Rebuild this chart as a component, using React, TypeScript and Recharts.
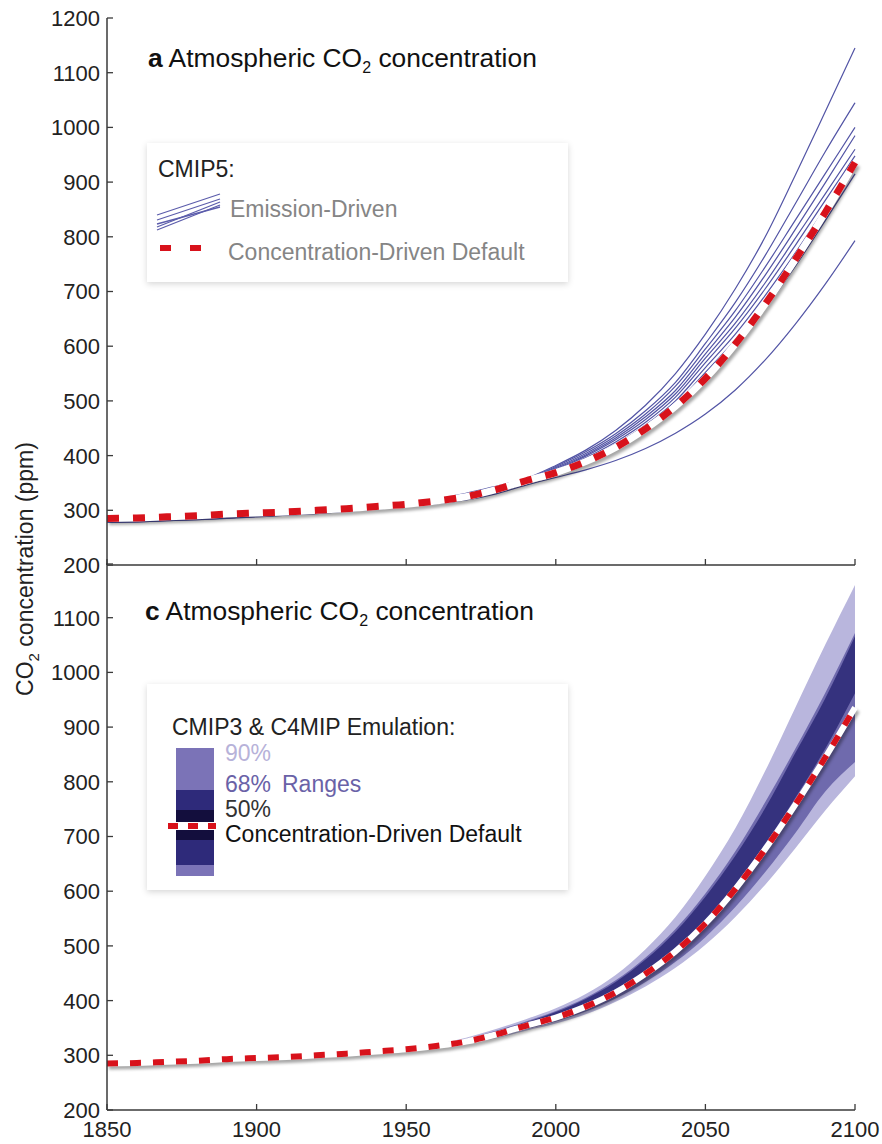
import React from "react";
import { ComposedChart, Line, Area, XAxis, YAxis } from "recharts";

const FONT = '"Liberation Sans", Arial, Helvetica, sans-serif';
const AXIS = "#3a3a3a";
const RUN = "#5254a5";
const RED = "#d8121b";

const years = [
  1850, 1860, 1870, 1880, 1890, 1900, 1910, 1920, 1930, 1940, 1950, 1960, 1970,
  1980, 1990, 2000, 2010, 2020, 2030, 2040, 2050, 2060, 2070, 2080, 2090, 2100,
];
const xTicks = [1850, 1900, 1950, 2000, 2050, 2100];
const yTicks = [200, 300, 400, 500, 600, 700, 800, 900, 1000, 1100, 1200];

// concentration-driven default (ppm)
const concDefault = [285, 286, 288, 290, 293, 295, 297, 300, 303, 307, 311, 317, 325, 338, 354, 369, 389, 415, 449, 490, 541, 604, 677, 758, 844, 936];

// CMIP5 emission-driven runs
const run1 = [280, 281, 283, 285, 288, 291, 294, 298, 303, 308, 314, 321, 331, 344, 358, 382, 410, 446, 492, 550, 622, 705, 800, 912, 1028, 1145];
const run2 = [279, 280, 282, 285, 287, 290, 294, 298, 302, 307, 313, 320, 330, 343, 357, 380, 407, 440, 482, 534, 605, 680, 766, 860, 955, 1045];
const run3 = [281, 282, 284, 286, 288, 291, 294, 298, 302, 307, 312, 319, 328, 341, 356, 378, 404, 436, 476, 527, 595, 665, 745, 830, 915, 1000];
const run4 = [279, 280, 282, 284, 287, 290, 293, 297, 301, 306, 312, 318, 327, 340, 355, 376, 401, 432, 471, 519, 586, 653, 730, 813, 898, 985];
const run5 = [280, 281, 283, 285, 287, 290, 293, 297, 301, 305, 311, 317, 326, 338, 354, 374, 399, 429, 466, 513, 578, 642, 716, 797, 878, 960];
const run6 = [278, 279, 281, 283, 286, 289, 292, 296, 300, 305, 310, 316, 324, 336, 352, 372, 396, 425, 461, 507, 570, 633, 705, 784, 866, 948];
const run7 = [281, 282, 283, 285, 288, 290, 293, 296, 300, 304, 310, 316, 323, 335, 351, 370, 393, 421, 456, 500, 561, 622, 693, 770, 852, 935];
const run8 = [279, 280, 282, 284, 286, 289, 292, 296, 299, 304, 309, 315, 322, 333, 350, 369, 391, 417, 451, 494, 552, 612, 682, 759, 840, 925];
const run9 = [280, 281, 282, 284, 286, 289, 292, 295, 299, 303, 308, 314, 321, 332, 349, 367, 388, 413, 446, 487, 543, 602, 670, 746, 829, 915];
const run10 = [278, 279, 281, 283, 285, 288, 291, 294, 298, 302, 307, 312, 319, 330, 346, 360, 374, 391, 413, 441, 476, 520, 575, 640, 713, 793];
const emissionRuns = [run1, run2, run3, run4, run5, run6, run7, run8, run9, run10];

// CMIP3 & C4MIP emulation ranges
const n = null;
const lo90 = [n, n, n, n, n, n, n, n, n, n, 311, 313, 321, 331, 345, 358, 375, 398, 426, 460, 502, 553, 612, 678, 747, 810];
const hi90 = [n, n, n, n, n, n, n, n, n, n, 311, 320, 332, 348, 366, 386, 412, 447, 494, 553, 628, 715, 820, 935, 1050, 1160];
const lo68 = [n, n, n, n, n, n, n, n, n, n, 311, 315, 323, 334, 348, 362, 380, 404, 434, 471, 516, 571, 635, 706, 782, 836];
const hi68 = [n, n, n, n, n, n, n, n, n, n, 311, 319, 330, 345, 362, 381, 405, 437, 479, 531, 596, 673, 763, 860, 962, 1072];
const lo50 = [n, n, n, n, n, n, n, n, n, n, 311, 317, 325, 338, 354, 369, 390, 417, 452, 494, 546, 611, 687, 770, 860, 962];
const hi50 = [n, n, n, n, n, n, n, n, n, n, 311, 318, 329, 344, 360, 379, 403, 434, 475, 526, 590, 665, 752, 852, 952, 1066];

const topData = years.map((year, i) => {
  const row: any = { year, conc: concDefault[i] };
  emissionRuns.forEach((r, k) => (row["run" + k] = r[i]));
  return row;
});

const pair = (a: (number | null)[], b: (number | null)[], i: number) =>
  a[i] == null || b[i] == null ? null : [a[i], b[i]];

const bottomData = years.map((year, i) => ({
  year,
  conc: concDefault[i],
  band90: pair(lo90, hi90, i),
  band68: pair(lo68, hi68, i),
  band50: pair(lo50, hi50, i),
}));

const leftTick = (hideTop: boolean) => (p: any) => {
  const v = p.payload.value;
  return (
    <g>
      <line x1={p.x} x2={p.x + 6} y1={p.y} y2={p.y} stroke={AXIS} strokeWidth={1.3} />
      {!(hideTop && v === 1200) && (
        <text x={p.x - 7} y={p.y} dy="0.36em" textAnchor="end" fontSize={22} fontFamily={FONT} fill="#222">
          {v}
        </text>
      )}
    </g>
  );
};
const rightTick = (p: any) => (
  <line x1={p.x - 6} x2={p.x} y1={p.y} y2={p.y} stroke={AXIS} strokeWidth={1.3} />
);
const topTick = (p: any) => (
  <line x1={p.x} x2={p.x} y1={p.y} y2={p.y + 6} stroke={AXIS} strokeWidth={1.3} />
);
const bottomTick = (labels: boolean) => (p: any) => (
  <g>
    <line x1={p.x} x2={p.x} y1={p.y} y2={p.y - 6} stroke={AXIS} strokeWidth={1.3} />
    {labels && (
      <text x={p.x} y={p.y + 27} textAnchor="middle" fontSize={22} fontFamily={FONT} fill="#222">
        {p.payload.value}
      </text>
    )}
  </g>
);

const axisLine = { stroke: AXIS, strokeWidth: 1.5 };

function axes(xLabels: boolean, hideTop: boolean, bottomHeight: number) {
  return [
    <XAxis key="xb" xAxisId="b" dataKey="year" type="number" domain={[1850, 2100]} ticks={xTicks} interval={0}
      height={bottomHeight} tickSize={0} tickMargin={0} tickLine={false} axisLine={axisLine} tick={bottomTick(xLabels)} />,
    <XAxis key="xt" xAxisId="t" orientation="top" type="number" domain={[1850, 2100]} ticks={xTicks} interval={0}
      height={0} tickSize={0} tickMargin={0} tickLine={false} axisLine={axisLine} tick={topTick} />,
    <YAxis key="yl" yAxisId="l" type="number" domain={[200, 1200]} ticks={yTicks} interval={0} width={107}
      tickSize={0} tickMargin={0} tickLine={false} axisLine={axisLine} tick={leftTick(hideTop)} />,
    <YAxis key="yr" yAxisId="r" orientation="right" type="number" domain={[200, 1200]} ticks={yTicks} interval={0}
      width={0} tickSize={0} tickMargin={0} tickLine={false} axisLine={axisLine} tick={rightTick} />,
  ];
}

function TopPanel() {
  return (
    <ComposedChart width={882} height={580} data={topData} margin={{ top: 18, right: 27, bottom: 0, left: 0 }}
      style={{ overflow: "visible" }}>
      {axes(false, false, 15)}
      {emissionRuns.map((_, k) => (
        <Line key={k} xAxisId="b" yAxisId="l" dataKey={"run" + k} type="monotone" stroke={RUN}
          strokeWidth={1.2} dot={false} isAnimationActive={false} />
      ))}
      <Line xAxisId="b" yAxisId="l" dataKey="conc" type="monotone" stroke="#ffffff" strokeWidth={7}
        dot={false} isAnimationActive={false} className="conc-shadow" />
      <Line xAxisId="b" yAxisId="l" dataKey="conc" type="monotone" stroke={RED} strokeWidth={7}
        strokeDasharray="12 14" dot={false} isAnimationActive={false} />
    </ComposedChart>
  );
}

function BottomPanel() {
  return (
    <ComposedChart width={882} height={581} data={bottomData} margin={{ top: 0, right: 27, bottom: 0, left: 0 }}
      style={{ overflow: "visible" }}>
      {axes(true, true, 34)}
      <Area xAxisId="b" yAxisId="l" dataKey="band90" type="monotone" stroke="none" fill="#b9b6dd"
        fillOpacity={1} isAnimationActive={false} />
      <Area xAxisId="b" yAxisId="l" dataKey="band68" type="monotone" stroke="none" fill="#6f6aad"
        fillOpacity={1} isAnimationActive={false} />
      <Area xAxisId="b" yAxisId="l" dataKey="band50" type="monotone" stroke="none" fill="#35327e"
        fillOpacity={1} isAnimationActive={false} />
      <Line xAxisId="b" yAxisId="l" dataKey="conc" type="monotone" stroke="#ffffff" strokeWidth={6}
        dot={false} isAnimationActive={false} className="conc-shadow" />
      <Line xAxisId="b" yAxisId="l" dataKey="conc" type="monotone" stroke={RED} strokeWidth={6}
        strokeDasharray="11 12" dot={false} isAnimationActive={false} />
    </ComposedChart>
  );
}

function Overlay() {
  const txt = { fontFamily: FONT };
  return (
    <svg width={882} height={1144} style={{ position: "absolute", left: 0, top: 0, pointerEvents: "none" }}>
      <defs>
        <filter id="boxShadow" x="-10%" y="-10%" width="120%" height="130%">
          <feDropShadow dx="0" dy="2" stdDeviation="3" floodColor="#000" floodOpacity="0.16" />
        </filter>
        <filter id="blur1">
          <feGaussianBlur stdDeviation="1.2" />
        </filter>
      </defs>

      {/* panel titles */}
      <text x={148} y={67} fontSize={26.4} fill="#111" {...txt}>
        <tspan fontWeight="bold">a</tspan> Atmospheric CO<tspan fontSize={16} dy={6}>2</tspan>
        <tspan dy={-6}> concentration</tspan>
      </text>
      <text x={145} y={620} fontSize={26.4} fill="#111" {...txt}>
        <tspan fontWeight="bold">c</tspan> Atmospheric CO<tspan fontSize={16} dy={6}>2</tspan>
        <tspan dy={-6}> concentration</tspan>
      </text>

      {/* y axis label */}
      <text transform="translate(33,569) rotate(-90)" textAnchor="middle" fontSize={23} fill="#222" {...txt}>
        CO<tspan fontSize={15} dy={6}>2</tspan>
        <tspan dy={-6}> concentration (ppm)</tspan>
      </text>

      {/* legend a */}
      <rect x={147} y={143} width={421} height={139} fill="#fff" filter="url(#boxShadow)" />
      <text x={158} y={177} fontSize={23} fill="#222" {...txt}>CMIP5:</text>
      {[
        [230, 205], [227, 202], [224, 207], [220, 199], [215, 194],
      ].map(([l, r], i) => (
        <line key={i} x1={157} y1={l} x2={220} y2={r} stroke="#5b5cab" strokeWidth={1.3} />
      ))}
      <text x={230} y={217} fontSize={23} fill="#858585" {...txt}>Emission-Driven</text>
      <line x1={168} y1={253} x2={222} y2={253} stroke="#9a9a9a" strokeWidth={4} filter="url(#blur1)" />
      <line x1={160} y1={248} x2={214} y2={248} stroke={RED} strokeWidth={6} strokeDasharray="11 19" />
      <text x={228} y={260} fontSize={23} fill="#858585" {...txt}>Concentration-Driven Default</text>

      {/* legend c */}
      <rect x={147} y={684} width={421} height={206} fill="#fff" filter="url(#boxShadow)" />
      <text x={172} y={735} fontSize={23} fill="#222" {...txt}>CMIP3 &amp; C4MIP Emulation:</text>
      <rect x={176} y={748} width={38} height={42} fill="#7b73b7" />
      <rect x={176} y={790} width={38} height={20} fill="#2e2a7a" />
      <rect x={176} y={810} width={38} height={12} fill="#130e3d" />
      <rect x={176} y={830} width={38} height={10} fill="#130e3d" />
      <rect x={176} y={840} width={38} height={25} fill="#2e2a7a" />
      <rect x={176} y={865} width={38} height={11} fill="#7b73b7" />
      <line x1={205} y1={829} x2={224} y2={829} stroke="#a0a0a0" strokeWidth={3} filter="url(#blur1)" />
      <line x1={168} y1={826} x2={216} y2={826} stroke="#fff" strokeWidth={6} />
      <line x1={168} y1={826} x2={216} y2={826} stroke={RED} strokeWidth={6} strokeDasharray="10 10" />
      <text x={225} y={761} fontSize={23} fill="#b7b2d9" {...txt}>90%</text>
      <text x={225} y={792} fontSize={23} fill="#6a62a7" {...txt}>68%</text>
      <text x={282} y={792} fontSize={23} fill="#6a62a7" {...txt}>Ranges</text>
      <text x={225} y={817} fontSize={23} fill="#333" {...txt}>50%</text>
      <text x={225} y={842} fontSize={23} fill="#111" {...txt}>Concentration-Driven Default</text>
    </svg>
  );
}

export default function App() {
  return (
    <div style={{ position: "absolute", left: 0, top: 0, width: 882, height: 1144, background: "#fff" }}>
      <style>{".conc-shadow .recharts-curve{filter:drop-shadow(2px 3px 1.5px rgba(0,0,0,0.35));}"}</style>
      <div style={{ position: "absolute", left: 0, top: 0 }}>
        <TopPanel />
      </div>
      <div style={{ position: "absolute", left: 0, top: 563 }}>
        <BottomPanel />
      </div>
      <Overlay />
    </div>
  );
}
